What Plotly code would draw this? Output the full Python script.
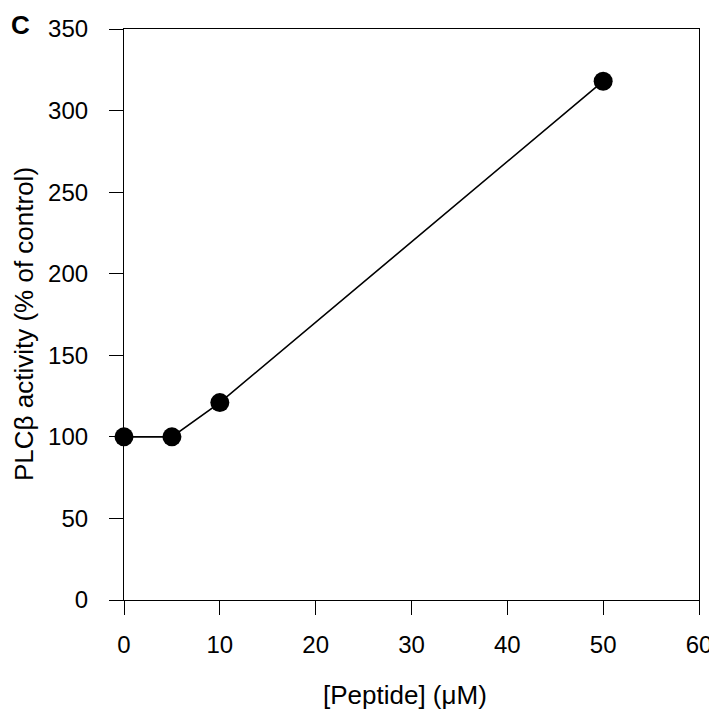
import plotly.graph_objects as go

peptide_uM = [0, 5, 10, 50]
plc_activity = [100, 100, 121, 318]
x_ticks = [0, 10, 20, 30, 40, 50, 60]
y_ticks = [0, 50, 100, 150, 200, 250, 300, 350]

FAM = "Liberation Sans, Arial, sans-serif"
tick_font = dict(family=FAM, size=24, color="black")
title_font = dict(family=FAM, size=26, color="black")

fig = go.Figure()
fig.add_trace(go.Scatter(
    x=peptide_uM, y=plc_activity, mode="lines+markers",
    line=dict(color="black", width=1.6),
    marker=dict(color="black", size=19),
    showlegend=False, cliponaxis=False,
))

# plot area: 575 x 571 px
fig.update_layout(
    width=709, height=704,
    margin=dict(l=116, r=18, t=21, b=112),
    plot_bgcolor="white", paper_bgcolor="white",
    font=tick_font,
    xaxis=dict(range=[0, 60], tickvals=x_ticks, ticks="outside", ticklen=14, tickwidth=1.2,
               tickcolor="black", showline=True, linecolor="black", linewidth=1.2, mirror=True,
               showgrid=False, zeroline=False, ticklabelstandoff=9, automargin=False,
               tickfont=tick_font),
    yaxis=dict(range=[0, 350], tickvals=y_ticks, ticks="outside", ticklen=14, tickwidth=1.2,
               tickcolor="black", showline=True, linecolor="black", linewidth=1.2, mirror=True,
               showgrid=False, zeroline=False, ticklabelstandoff=16, automargin=False,
               tickfont=tick_font),
    annotations=[
        dict(text="<b>C</b>", x=-115/575, y=1 + 21/571, xref="paper", yref="paper",
             showarrow=False, font=dict(family=FAM, size=26, color="black"),
             xanchor="left", yanchor="top"),
        dict(text="[Peptide] (μM)", x=(404.5-124)/575, y=(600-695)/571, xref="paper", yref="paper",
             showarrow=False, font=title_font, xanchor="center", yanchor="middle", borderpad=0),
        dict(text="PLCβ activity (% of control)", x=(24-124)/575, y=(600-324)/571,
             xref="paper", yref="paper", textangle=-90, borderpad=0,
             showarrow=False, font=title_font, xanchor="center", yanchor="middle"),
    ],
)
fig.write_html("out.html")
